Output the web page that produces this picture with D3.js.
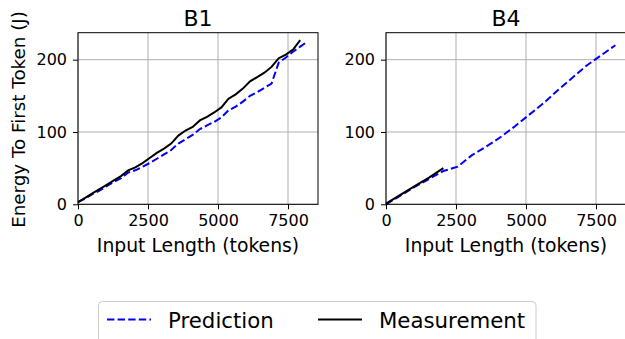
<!DOCTYPE html>
<html>
<head>
<meta charset="utf-8">
<script src="https://cdn.jsdelivr.net/npm/d3@7"></script>
<style>
  body { margin: 0; background: #fff; }
  svg { font-family: "DejaVu Sans", sans-serif; }
</style>
</head>
<body>
<div id="chart"></div>
<script>
// input lengths (tokens)
var b1MeasX = [0,256,512,768,1024,1280,1536,1792,2048,2304,2560,2816,3072,3328,3584,3840,4096,4352,4608,4864,5120,5376,5632,5888,6144,6400,6656,6912,7168,7424,7680,7936]
var b1MeasY = [3,9,15,21,27,33,39,47,51,57,64,71,77,84,95,102,107,116,121,127,134,146,152,160,170,176,182,190,202,207,214,227]
var b1PredX = [0,256,512,768,1024,1280,1536,1792,2048,2304,2560,2816,3072,3328,3584,3840,4096,4352,4608,4864,5120,5376,5632,5888,6144,6400,6656,6912,7168,7424,7680,7936,8192]
var b1PredY = [3,8,14,19,25,31,36,44,47,52,57,63,69,75,84,90,96,104,109,114,120,130,135,142,150,155,161,167,196,203,211,218,225]

var b4MeasX = [0,512,1024,1536,2048]
var b4MeasY = [1,13,25,37,50]
var b4PredX = [0,512,1024,1536,2048,2560,3072,3584,4096,4608,5120,5632,6144,6656,7168,7680,8192]
var b4PredY = [0,12,24,35,46,52,68,80,93,108,124,140,158,175,192,206,220]

var xTicks = [0, 2500, 5000, 7500]
var yTicks = [0, 100, 200]

var width = 625
var height = 339

var svg = d3.select("#chart").append("svg")
    .attr("width", width)
    .attr("height", height)

const panelW = 240
const plotTop = 32.7, plotBottom = 204.3

const zip = (xs, ys) => xs.map((x, i) => [x, ys[i]])

const panels = [
    {title: "B1", left: 78, pred: zip(b1PredX, b1PredY), meas: zip(b1MeasX, b1MeasY), ylabel: true},
    {title: "B4", left: 386, pred: zip(b4PredX, b4PredY), meas: zip(b4MeasX, b4MeasY), ylabel: false}
]

panels.forEach(p => {
    const xScale = d3.scaleLinear().domain([0, 8571]).range([p.left, p.left + panelW])
    const yScale = d3.scaleLinear().domain([0, 237.3]).range([plotBottom, plotTop])

    const g = svg.append("g")

    // grid
    g.selectAll(".vg").data(xTicks).enter().append("line")
        .attr("x1", d => xScale(d)).attr("x2", d => xScale(d))
        .attr("y1", plotTop).attr("y2", plotBottom)
        .attr("stroke", "#b0b0b0").attr("stroke-width", 1)
    g.selectAll(".hg").data(yTicks).enter().append("line")
        .attr("x1", p.left).attr("x2", p.left + panelW)
        .attr("y1", d => yScale(d)).attr("y2", d => yScale(d))
        .attr("stroke", "#b0b0b0").attr("stroke-width", 1)

    const line = d3.line().x(d => xScale(d[0])).y(d => yScale(d[1]))

    g.append("path").datum(p.pred)
        .attr("d", line)
        .attr("fill", "none")
        .attr("stroke", "#0000ff")
        .attr("stroke-width", 2)
        .attr("stroke-dasharray", "7.4,3.2")

    g.append("path").datum(p.meas)
        .attr("d", line)
        .attr("fill", "none")
        .attr("stroke", "#000")
        .attr("stroke-width", 2)

    // axes
    const xAxis = d3.axisBottom(xScale).tickValues(xTicks).tickSize(5).tickPadding(5).tickFormat(d3.format("d"))
    const yAxis = d3.axisLeft(yScale).tickValues(yTicks).tickSize(5).tickPadding(6).tickFormat(d3.format("d"))

    const gx = g.append("g").attr("transform", `translate(0, ${plotBottom})`).call(xAxis)
    const gy = g.append("g").attr("transform", `translate(${p.left}, 0)`).call(yAxis)
    ;[gx, gy].forEach(a => {
        a.select(".domain").remove()
        a.selectAll("text").attr("font-size", 16).attr("fill", "#000").attr("font-family", "DejaVu Sans")
        a.selectAll("line").attr("stroke", "#000")
    })

    // frame
    g.append("rect")
        .attr("x", p.left).attr("y", plotTop)
        .attr("width", panelW).attr("height", plotBottom - plotTop)
        .attr("fill", "none").attr("stroke", "#000").attr("stroke-width", 1)

    svg.append("text")
        .attr("x", p.left + panelW / 2).attr("y", 25.5)
        .attr("text-anchor", "middle")
        .attr("font-size", 22)
        .text(p.title)

    svg.append("text")
        .attr("x", p.left + panelW / 2).attr("y", 251.5)
        .attr("text-anchor", "middle")
        .attr("font-size", 18.8)
        .text("Input Length (tokens)")

    if (p.ylabel) {
        svg.append("text")
            .attr("transform", `translate(25, ${(plotTop + plotBottom) / 2 + 1}) rotate(-90)`)
            .attr("text-anchor", "middle")
            .attr("font-size", 18.3)
            .text("Energy To First Token (J)")
    }
})

// legend
const leg = svg.append("g")
leg.append("rect")
    .attr("x", 98.5).attr("y", 301.5)
    .attr("width", 437.5).attr("height", 48)
    .attr("rx", 4)
    .attr("fill", "#fff").attr("stroke", "#ccc").attr("stroke-width", 1)

const legendItems = [
    {label: "Prediction", color: "#0000ff", dash: "7.4,3.2", x: 107},
    {label: "Measurement", color: "#000", dash: null, x: 318}
]
legendItems.forEach(it => {
    leg.append("line")
        .attr("x1", it.x).attr("x2", it.x + 44)
        .attr("y1", 319.5).attr("y2", 319.5)
        .attr("stroke", it.color).attr("stroke-width", 2)
        .attr("stroke-dasharray", it.dash)
    leg.append("text")
        .attr("x", it.x + 61).attr("y", 327.5)
        .attr("font-size", 21.3)
        .text(it.label)
})
</script>
</body>
</html>
